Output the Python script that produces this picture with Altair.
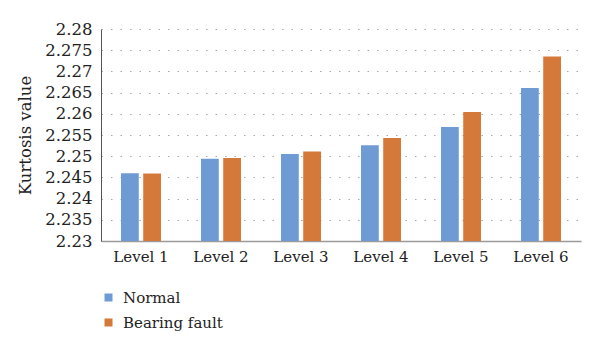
import altair as alt
import pandas as pd

levels = ["Level 1", "Level 2", "Level 3", "Level 4", "Level 5", "Level 6"]
series = ["Normal", "Bearing fault"]
normal = [2.2460, 2.2494, 2.2505, 2.2526, 2.2569, 2.2661]
bearing = [2.2459, 2.2496, 2.2511, 2.2543, 2.2604, 2.2735]
y_ticks = [2.23, 2.235, 2.24, 2.245, 2.25, 2.255, 2.26, 2.265, 2.27, 2.275, 2.28]

rows = []
for i, lv in enumerate(levels):
    rows.append({"level": lv, "series": series[0], "value": normal[i]})
    rows.append({"level": lv, "series": series[1], "value": bearing[i]})
df = pd.DataFrame(rows)

FONT = "DejaVu Serif"

chart = alt.Chart(df).mark_bar(clip=True).encode(
    x=alt.X("level:N", sort=levels,
            scale=alt.Scale(paddingInner=0.5, paddingOuter=0.25),
            axis=alt.Axis(title=None, labelAngle=0, ticks=False, grid=False,
                          domainColor="#9a9a9a", domainWidth=1.5,
                          labelFontSize=15, labelPadding=8,
                          labelColor="#222222")),
    xOffset=alt.XOffset("series:N", sort=series,
                        scale=alt.Scale(paddingInner=0.2, paddingOuter=0)),
    y=alt.Y("value:Q", scale=alt.Scale(domain=[2.23, 2.28], nice=False, zero=False),
            axis=alt.Axis(title="Kurtosis value", values=y_ticks, format="~g",
                          ticks=False, domainColor="#555555", domainWidth=1,
                          gridColor="#aaaaaa", gridDash=[1.5, 8], gridWidth=1.2,
                          labelFontSize=16.5, labelPadding=9,
                          labelColor="#222222",
                          titleFontSize=16.5, titleFontWeight="normal",
                          titleColor="#222222", titlePadding=11)),
    color=alt.Color("series:N", sort=series,
                    scale=alt.Scale(domain=series, range=["#6f9bd4", "#d5793a"]),
                    legend=alt.Legend(title=None, orient="none", legendX=0, legendY=261,
                                      symbolType="square", symbolSize=64,
                                      symbolStrokeWidth=0,
                                      labelFontSize=15, labelColor="#222222",
                                      labelOffset=7, rowPadding=9, padding=0)),
).properties(
    width=480, height=212,
    autosize=alt.AutoSizeParams(type="none"),
    padding={"left": 93, "top": 21, "right": 11, "bottom": 107},
).configure(font=FONT).configure_axis(labelFont=FONT, titleFont=FONT).configure_legend(
    labelFont=FONT
).configure_view(stroke=None)

chart.save("out.html", embed_options={"renderer": "svg", "actions": False})
